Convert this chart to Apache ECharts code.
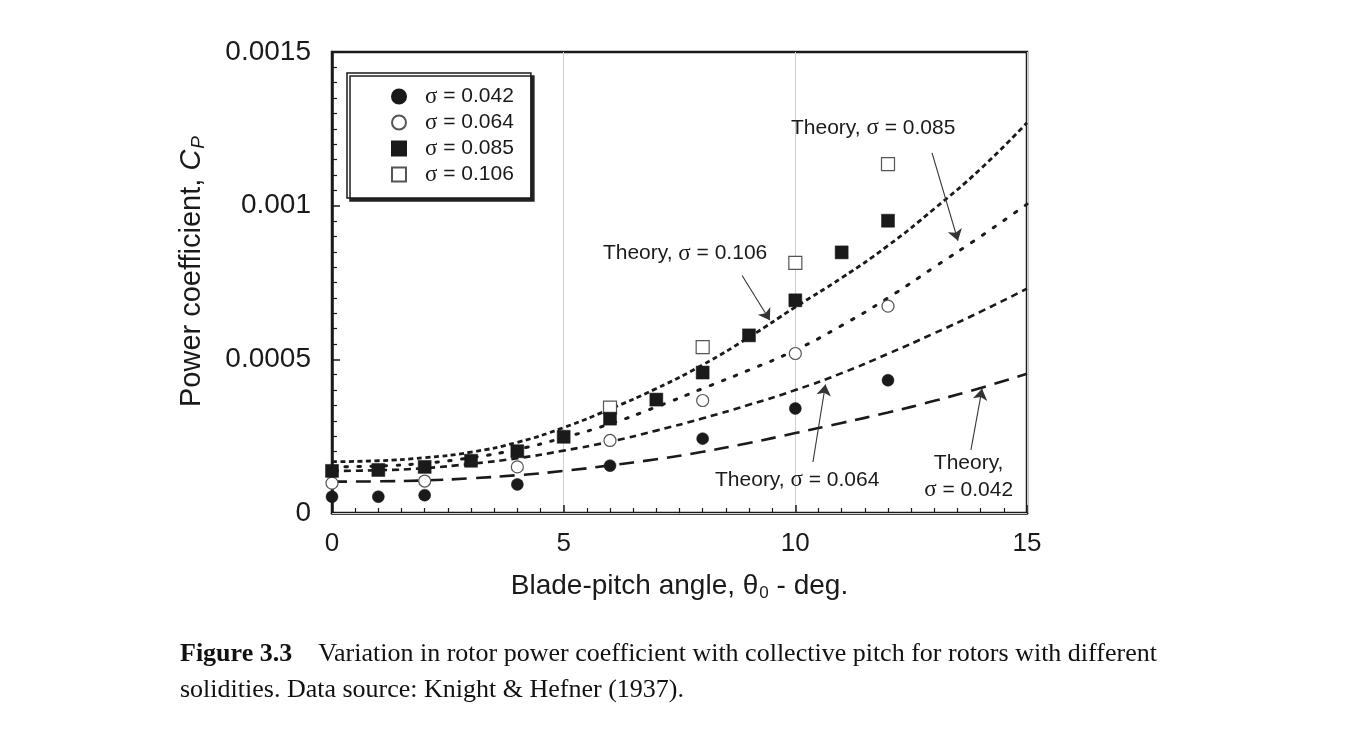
<!DOCTYPE html>
<html>
<head>
<meta charset="utf-8">
<script src="https://cdn.jsdelivr.net/npm/echarts@6/dist/echarts.min.js"></script>
<style>
html,body{margin:0;padding:0;background:#fff;}
#chart{width:1352px;height:740px;}
</style>
</head>
<body>
<div id="chart"></div>
<script>
// ---- data ----
const theoryX = [0,1,2,3,4,5,6,7,8,9,10,11,12,13,14,15];
const theory042 = [0.000102,0.000103,0.000106,0.000113,0.000123,0.000137,0.000155,0.000175,0.000199,0.000228,0.000260,0.000293,0.000327,0.000365,0.000407,0.000453];
const theory064 = [0.000137,0.000139,0.000146,0.000160,0.000178,0.000203,0.000232,0.000268,0.000308,0.000352,0.000400,0.000455,0.000518,0.000585,0.000655,0.000730];
const theory085 = [0.000150,0.000153,0.000162,0.000180,0.000207,0.000245,0.000290,0.000345,0.000405,0.000465,0.000530,0.000610,0.000700,0.000800,0.000900,0.001005];
const theory106 = [0.000167,0.000170,0.000180,0.000198,0.000230,0.000278,0.000338,0.000405,0.000482,0.000572,0.000670,0.000765,0.000870,0.000990,0.001120,0.001270];

const x042 = [0,1,2,4,6,8,10,12];
const y042 = [0.000053,0.000053,0.000058,0.000093,0.000154,0.000242,0.000340,0.000432];
const x064 = [0,2,4,6,8,10,12];
const y064 = [0.000097,0.000104,0.000150,0.000236,0.000366,0.000519,0.000673];
const x085 = [0,1,2,3,4,5,6,7,8,9,10,11,12];
const y085 = [0.000137,0.000140,0.000150,0.000170,0.000201,0.000248,0.000307,0.000369,0.000457,0.000578,0.000692,0.000848,0.000951];
const x106 = [6,8,10,12];
const y106 = [0.000343,0.000540,0.000814,0.001135];

const seriesNames = ['σ = 0.042','σ = 0.064','σ = 0.085','σ = 0.106'];
const xTickLabels = ['0','5','10','15'];
const yTickLabels = ['0','0.0005','0.001','0.0015'];

const pair = (xs, ys) => xs.map((x, i) => [x, ys[i]]);
const FONT = '"Liberation Sans", Arial, Helvetica, sans-serif';
const SERIF = '"Liberation Serif", "Times New Roman", serif';
const INK = '#1a1a1a';
const sig = (s) => s.replace('σ', '{g|σ}');

function annot(text, at, from, to) {
  return {
    markPoint: {
      silent: true, symbol: 'circle', symbolSize: 0,
      label: {
        show: true, position: 'inside', formatter: sig(text), color: INK, fontSize: 21, fontFamily: FONT, lineHeight: 27,
        rich: { g: { fontFamily: SERIF, fontSize: 23, color: INK } }
      },
      data: [{ coord: at }]
    },
    markLine: {
      silent: true, symbol: ['none', 'arrow'], symbolSize: 11,
      lineStyle: { type: 'solid', width: 1.1, color: '#333' },
      label: { show: false },
      data: [[{ coord: from }, { coord: to }]]
    }
  };
}

const chart = echarts.init(document.getElementById('chart'), null, { renderer: 'canvas' });

const option = {
  animation: false,
  backgroundColor: '#fff',
  grid: { left: 332, right: 325, top: 52, bottom: 227, show: true, borderColor: INK, borderWidth: 2.5, backgroundColor: 'transparent' },
  legend: {
    data: seriesNames,
    orient: 'vertical', left: 347, top: 73,
    itemWidth: 14, itemHeight: 14, itemGap: 3,
    padding: [12, 17, 12, 44],
    backgroundColor: '#fff', borderColor: INK, borderWidth: 1.5,
    shadowColor: '#222', shadowBlur: 0, shadowOffsetX: 3, shadowOffsetY: 3,
    formatter: (n) => sig(n),
    textStyle: {
      fontSize: 21, lineHeight: 22, color: INK, fontFamily: FONT, padding: [0, 0, 0, 14],
      rich: { g: { fontFamily: SERIF, fontSize: 23, lineHeight: 22, color: INK } }
    },
    selectedMode: false
  },
  xAxis: {
    type: 'value', min: 0, max: 15, interval: 5,
    name: 'Blade-pitch angle, {t|θ}{s|0} - deg.',
    nameLocation: 'middle', nameGap: 58,
    nameTextStyle: {
      fontSize: 28, color: INK, fontFamily: FONT,
      rich: {
        t: { fontSize: 28, color: INK, fontFamily: FONT },
        s: { fontSize: 17, color: INK, fontFamily: FONT, verticalAlign: 'bottom', padding: [14, 0, 0, 1] }
      }
    },
    axisLine: { show: true, lineStyle: { color: INK, width: 2.5 } },
    axisTick: { show: true, inside: true, length: 8, lineStyle: { color: INK, width: 1.5 } },
    minorTick: { show: true, splitNumber: 10, length: 5, lineStyle: { color: INK, width: 1.2 } },
    axisLabel: { fontSize: 26, color: INK, fontFamily: FONT, margin: 18, formatter: (v) => xTickLabels[Math.round(v / 5)] },
    splitLine: { show: true, lineStyle: { color: '#cfcfcf', width: 1 } }
  },
  yAxis: {
    type: 'value', min: 0, max: 0.0015, interval: 0.0005,
    name: 'Power coefficient, {c|C}{p|P}',
    nameLocation: 'middle', nameGap: 124,
    nameTextStyle: {
      fontSize: 29, color: INK, fontFamily: FONT, padding: [0, 0, 0, 22],
      rich: {
        c: { fontSize: 29, color: INK, fontFamily: FONT, fontStyle: 'italic' },
        p: { fontSize: 19, color: INK, fontFamily: FONT, fontStyle: 'italic', verticalAlign: 'bottom', padding: [13, 0, 0, 1] }
      }
    },
    axisLine: { show: true, lineStyle: { color: INK, width: 2.5 } },
    axisTick: { show: true, inside: true, length: 8, lineStyle: { color: INK, width: 1.5 } },
    minorTick: { show: true, splitNumber: 10, length: 5, lineStyle: { color: INK, width: 1.2 } },
    axisLabel: { fontSize: 28, color: INK, fontFamily: FONT, margin: 21, formatter: (v) => yTickLabels[Math.round(v / 0.0005)] },
    splitLine: { show: false }
  },
  series: [
    Object.assign({
      name: 'Theory 0.042', type: 'line', smooth: true, symbol: 'none', z: 3,
      lineStyle: { color: INK, width: 2.6, type: [15, 9] },
      data: pair(theoryX, theory042)
    }, annot('Theory,\nσ = 0.042', [13.74, 0.000118], [13.79, 0.000205], [14.03, 0.000404])),
    Object.assign({
      name: 'Theory 0.064', type: 'line', smooth: true, symbol: 'none', z: 3,
      lineStyle: { color: INK, width: 2.6, type: [7, 5] },
      data: pair(theoryX, theory064)
    }, annot('Theory, σ = 0.064', [10.04, 0.000107], [10.38, 0.000166], [10.65, 0.000418])),
    Object.assign({
      name: 'Theory 0.085', type: 'line', smooth: true, symbol: 'none', z: 3,
      lineStyle: { color: INK, width: 3, type: [2.5, 10.5], cap: 'round' },
      data: pair(theoryX, theory085)
    }, annot('Theory, σ = 0.085', [11.68, 0.001253], [12.95, 0.001172], [13.51, 0.000886])),
    Object.assign({
      name: 'Theory 0.106', type: 'line', smooth: true, symbol: 'none', z: 3,
      lineStyle: { color: INK, width: 2.8, type: [5, 3.5] },
      data: pair(theoryX, theory106)
    }, annot('Theory, σ = 0.106', [7.62, 0.000844], [8.85, 0.000773], [9.45, 0.000627])),
    {
      name: 'grid-h', type: 'line', data: [], silent: true, z: 1,
      markLine: {
        silent: true, symbol: ['none', 'none'], label: { show: false },
        data: [
          { yAxis: 0.001, lineStyle: { type: 'solid', color: '#cfcfcf', width: 1 } },
          { yAxis: 0.0005, lineStyle: { type: [9, 5], color: '#cfcfcf', width: 1 } }
        ]
      }
    },
    {
      name: seriesNames[0], type: 'scatter', symbol: 'circle', symbolSize: 12, z: 5,
      itemStyle: { color: INK, borderColor: INK, borderWidth: 0.5, opacity: 1 },
      data: pair(x042, y042)
    },
    {
      name: seriesNames[1], type: 'scatter', symbol: 'circle', symbolSize: 12, z: 5,
      itemStyle: { color: '#fff', borderColor: '#555', borderWidth: 1.2, opacity: 1 },
      data: pair(x064, y064)
    },
    {
      name: seriesNames[3], type: 'scatter', symbol: 'rect', symbolSize: 13, z: 5,
      itemStyle: { color: '#fff', borderColor: '#555', borderWidth: 1.2, opacity: 1 },
      data: pair(x106, y106)
    },
    {
      name: seriesNames[2], type: 'scatter', symbol: 'rect', symbolSize: 13, z: 6,
      itemStyle: { color: INK, borderColor: INK, borderWidth: 0.5, opacity: 1 },
      data: pair(x085, y085)
    }
  ],
  graphic: [
    {
      type: 'text', left: 180, top: 636,
      style: {
        text: '{b|Figure 3.3}    Variation in rotor power coefficient with collective pitch for rotors with different\nsolidities. Data source: Knight & Hefner (1937).',
        fontFamily: SERIF, fontSize: 26, lineHeight: 36, fill: '#111',
        rich: { b: { fontFamily: SERIF, fontSize: 26, fontWeight: 'bold', fill: '#111' } }
      }
    }
  ]
};

chart.setOption(option);
</script>
</body>
</html>
